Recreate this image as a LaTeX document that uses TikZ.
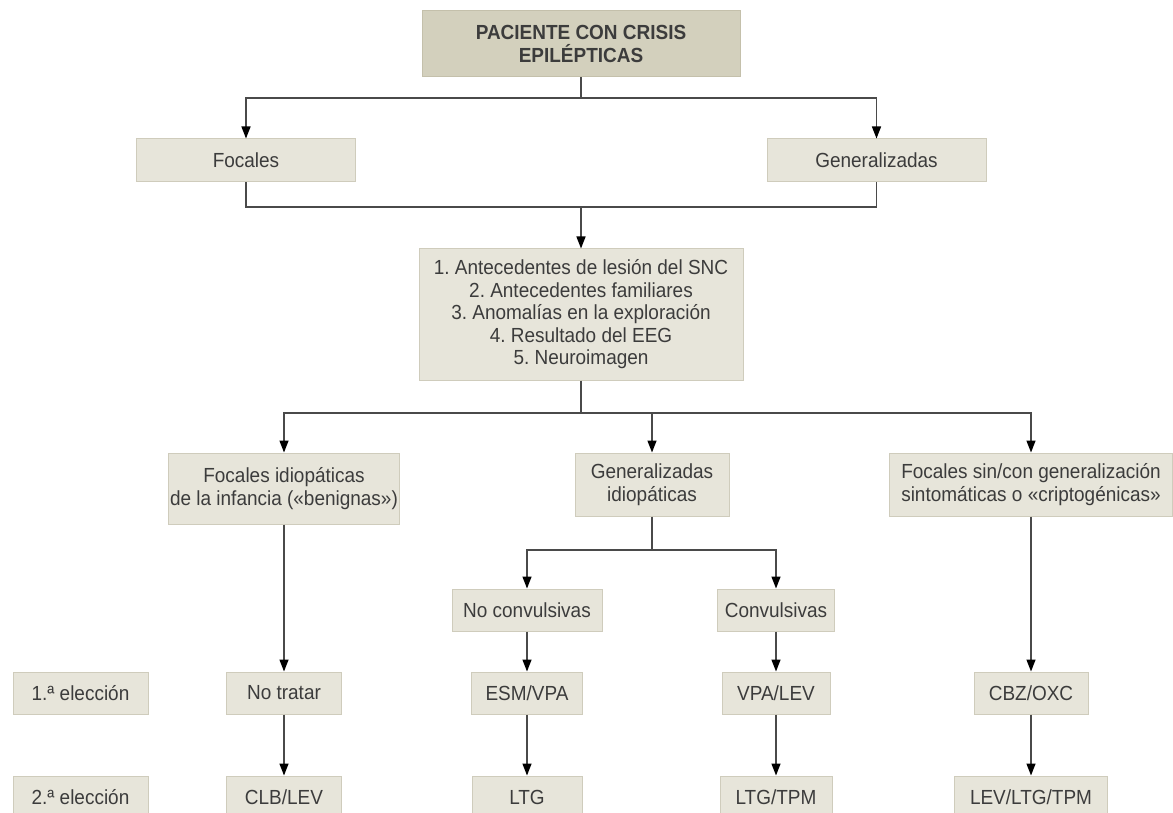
\documentclass[tikz,border=0pt]{standalone}
\usepackage{fontspec}
\setmainfont{Liberation Sans}[FakeStretch=0.93]
\usetikzlibrary{arrows.meta}
\definecolor{boxfill}{HTML}{E7E5DA}
\definecolor{boxedge}{HTML}{CFCCBC}
\definecolor{topfill}{HTML}{D3D0BD}
\definecolor{topedge}{HTML}{C4C0AB}
\definecolor{linegray}{HTML}{4A4A4A}
\definecolor{txtgray}{HTML}{3C3C3C}
\frenchspacing

\begin{document}
\begin{tikzpicture}[x=1pt,y=-1pt,->,>={Triangle[length=12pt,width=9pt,color=black]},
                    conn/.style={draw=linegray,line width=1.4pt},
                    main node/.style={rectangle,draw=boxedge,fill=boxfill,line width=1pt,text=txtgray,
                                      align=center,inner sep=0pt,font=\fontsize{20.4}{22.5}\selectfont},
                    row node/.style={main node,minimum height=42pt},
                    top node/.style={main node,draw=topedge,fill=topfill,font=\fontsize{20.4}{22.5}\selectfont\bfseries}]
  \useasboundingbox (0,0) rectangle (1173,813);
  \clip (0,0) rectangle (1173,813);
  \fill[white] (0,0) rectangle (1173,813);

  \node[top node,minimum width=318pt,minimum height=66pt] (pac) at (581,44) {PACIENTE CON CRISIS\\EPILÉPTICAS};
  \node[main node,minimum width=219pt,minimum height=43pt] (foc) at (246,160.5) {Focales};
  \node[main node,minimum width=219pt,minimum height=43pt] (gen) at (876.5,160.5) {Generalizadas};
  \node[main node,minimum width=324pt,minimum height=131pt] (ante) at (581,314.5)
    {1. Antecedentes de lesión del SNC\\2. Antecedentes familiares\\3. Anomalías en la exploración\\4. Resultado del EEG\\5. Neuroimagen};

  \node[main node,minimum width=231pt,minimum height=71pt] (fid) at (284,488.5) {Focales idiopáticas\\de la infancia («benignas»)};
  \node[main node,minimum width=154pt,minimum height=63pt] (gid) at (652,484.5) {Generalizadas\\idiopáticas};
  \node[main node,minimum width=283pt,minimum height=63pt] (fsc) at (1031,484.5) {Focales sin/con generalización\\sintomáticas o «criptogénicas»};
  \node[row node,minimum width=150pt] (nconv) at (527,610) {No convulsivas};
  \node[row node,minimum width=117pt] (conv) at (776,610) {Convulsivas};

  % 1.a eleccion
  \node[row node,minimum width=135pt] (e1) at (80.5,693) {1.ª elección};
  \node[row node,minimum width=115pt] (nt) at (284,693) {No tratar};
  \node[row node,minimum width=111pt] (esm) at (527,693) {ESM/VPA};
  \node[row node,minimum width=108pt] (vpa) at (776,693) {VPA/LEV};
  \node[row node,minimum width=114pt] (cbz) at (1031,693) {CBZ/OXC};
  % 2.a eleccion
  \node[row node,minimum width=135pt] (e2) at (80.5,797) {2.ª elección};
  \node[row node,minimum width=115pt] (clb) at (284,797) {CLB/LEV};
  \node[row node,minimum width=110pt] (ltg) at (527,797) {LTG};
  \node[row node,minimum width=112pt] (ltgtpm) at (776,797) {LTG/TPM};
  \node[row node,minimum width=153pt] (lev) at (1031,797) {LEV/LTG/TPM};

  \coordinate (j1) at (581,98);
  \coordinate (j2) at (581,207);
  \coordinate (j3) at (581,413);
  \coordinate (j4) at (652,550);

  \draw[conn,-] (pac) -- (j1);
  \draw[conn] (j1) -| (foc);
  \draw[conn] (j1) -| (gen);
  \draw[conn,-] (foc) |- (j2);
  \draw[conn,-] (gen) |- (j2);
  \draw[conn] (j2) -- (ante);
  \draw[conn,-] (ante) -- (j3);
  \draw[conn] (j3) -| (fid);
  \draw[conn] (j3) -| (gid);
  \draw[conn] (j3) -| (fsc);
  \draw[conn,-] (gid) -- (j4);
  \draw[conn] (j4) -| (nconv);
  \draw[conn] (j4) -| (conv);

  \path[conn]
    (fid) edge (nt)
    (nt) edge (clb)
    (nconv) edge (esm)
    (esm) edge (ltg)
    (conv) edge (vpa)
    (vpa) edge (ltgtpm)
    (fsc) edge (cbz)
    (cbz) edge (lev)
    ;
\end{tikzpicture}
\end{document}
